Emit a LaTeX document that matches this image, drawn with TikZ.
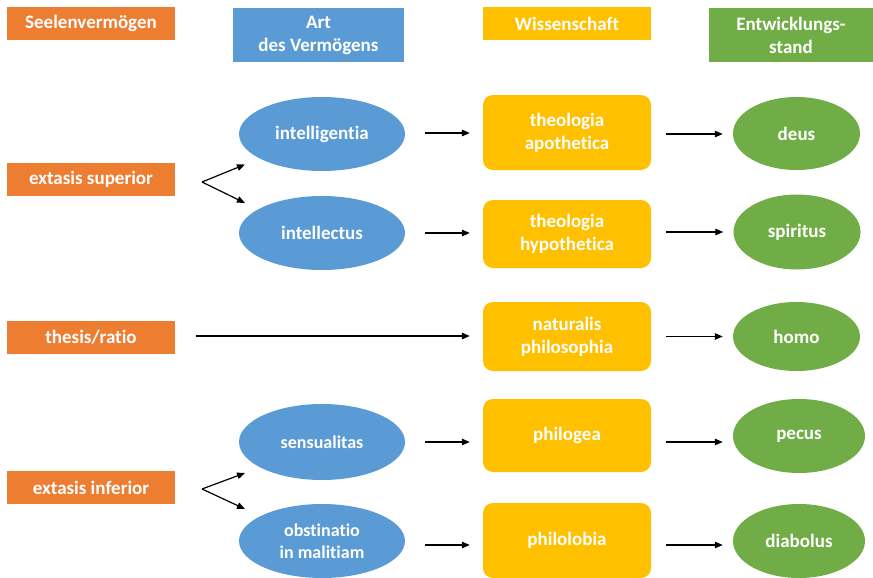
\documentclass[tikz,border=0pt]{standalone}
\usepackage{fontspec}
\setmainfont{Carlito}[BoldFont={Carlito Bold},Ligatures=NoCommon]
\usetikzlibrary{shapes.geometric,arrows.meta}
\definecolor{corange}{HTML}{ED7D31}
\definecolor{cblue}{HTML}{5B9BD5}
\definecolor{cyellow}{HTML}{FFC000}
\definecolor{cgreen}{HTML}{70AD47}
\begin{document}
\begin{tikzpicture}[x=1pt,y=-1pt,
  lbl/.style={text=white,font=\fontsize{19}{23}\selectfont\bfseries,align=center,inner sep=0pt},
  obox/.style={lbl,rectangle,fill=corange,minimum width=168pt,minimum height=33pt},
  hbox/.style={lbl,rectangle,minimum height=54pt},
  ybox/.style={lbl,rectangle,rounded corners=10pt,fill=cyellow,minimum width=168pt},
  bell/.style={lbl,ellipse,fill=cblue,minimum width=166pt},
  gell/.style={lbl,ellipse,fill=cgreen},
  arr/.style={line width=1.2pt,-{Triangle[length=8pt,width=6.5pt]}}]
\useasboundingbox (0,0) rectangle (873,578);
% headers
\node[obox] (seel) at (91,23.5) {Seelenvermögen};
\node[hbox,fill=cblue,minimum width=171pt] (art) at (318.5,35) {Art\\des Vermögens};
\node[hbox,fill=cyellow,minimum width=168pt,minimum height=33pt] (wiss) at (567,23.5) {Wissenschaft};
\node[hbox,fill=cgreen,minimum width=164pt] (entw) at (791,35) {Entwicklungs-\\stand};
% left
\node[obox] (extsup) at (91,179.5) {extasis superior};
\node[obox] (thesis) at (91,337.5) {thesis/ratio};
\node[obox] (extinf) at (91,487.5) {extasis inferior};
% blue ellipses
\node[bell,minimum height=74pt] (intel) at (322,134) {intelligentia};
\node[bell,minimum height=74pt] (intellectus) at (322,233) {intellectus};
\node[bell,minimum height=76pt,font=\fontsize{18}{22}\selectfont\bfseries] (sens) at (322,442) {sensualitas};
\node[bell,minimum height=74pt,font=\fontsize{18}{22}\selectfont\bfseries] (obst) at (322,541) {obstinatio\\in malitiam};
% yellow boxes
\node[ybox,minimum height=75pt] (theoapo) at (567,132.5) {theologia\\apothetica};
\node[ybox,minimum height=68pt] (theohyp) at (567,234) {theologia\\hypothetica};
\node[ybox,minimum height=69pt] (natur) at (567,336.5) {naturalis\\philosophia};
\node[ybox,minimum height=73pt] (philogea) at (567,435.5) {philogea};
\node[ybox,minimum height=75pt] (philolobia) at (567,540.5) {philolobia};
% green ellipses
\node[gell,minimum width=127pt,minimum height=73pt] (deus) at (796.5,133.5) {deus};
\node[gell,minimum width=127pt,minimum height=75pt] (spiritus) at (797,232) {spiritus};
\node[gell,minimum width=127pt,minimum height=69pt] (homo) at (796.5,336.5) {homo};
\node[gell,minimum width=132pt,minimum height=74pt] (pecus) at (799,436) {pecus};
\node[gell,minimum width=132pt,minimum height=74pt] (diabolus) at (799,541) {diabolus};
% branch arrows
\coordinate (vs) at (202,182);
\coordinate (vsa) at (245,164.5);
\coordinate (vsb) at (245,203);
\draw[arr] (vs) -- (vsa);
\draw[arr] (vs) -- (vsb);
\coordinate (vi) at (202,489);
\coordinate (via) at (245,473);
\coordinate (vib) at (245,509);
\draw[arr] (vi) -- (via);
\draw[arr] (vi) -- (vib);
% arrows blue -> yellow
\draw[arr,shorten <=20pt,shorten >=13pt] ([yshift=1pt]intel.east) -- ([yshift=1pt]intel.east -| theoapo.west);
\draw[arr,shorten <=20pt,shorten >=13pt] (intellectus.east) -- (intellectus.east -| theohyp.west);
\draw[arr,shorten <=20pt,shorten >=13pt] (sens.east) -- (sens.east -| philogea.west);
\draw[arr,shorten <=20pt,shorten >=13pt] ([yshift=-4pt]obst.east) -- ([yshift=-4pt]obst.east -| philolobia.west);
\draw[arr,shorten <=21pt,shorten >=13pt] ([yshift=1.5pt]thesis.east) -- ([yshift=1.5pt]thesis.east -| natur.west);
% arrows yellow -> green
\draw[arr,shorten <=15pt,shorten >=10pt] ([yshift=-1.5pt]theoapo.east) -- ([yshift=-1.5pt]theoapo.east -| deus.west);
\draw[arr,shorten <=15pt,shorten >=10pt] ([yshift=2pt]theohyp.east) -- ([yshift=2pt]theohyp.east -| spiritus.west);
\draw[arr,shorten <=15pt,shorten >=10pt] (natur.east) -- (natur.east -| homo.west);
\draw[arr,shorten <=15pt,shorten >=10pt] ([yshift=-6.5pt]philogea.east) -- ([yshift=-6.5pt]philogea.east -| pecus.west);
\draw[arr,shorten <=15pt,shorten >=10pt] ([yshift=-4.5pt]philolobia.east) -- ([yshift=-4.5pt]philolobia.east -| diabolus.west);
\end{tikzpicture}
\end{document}
